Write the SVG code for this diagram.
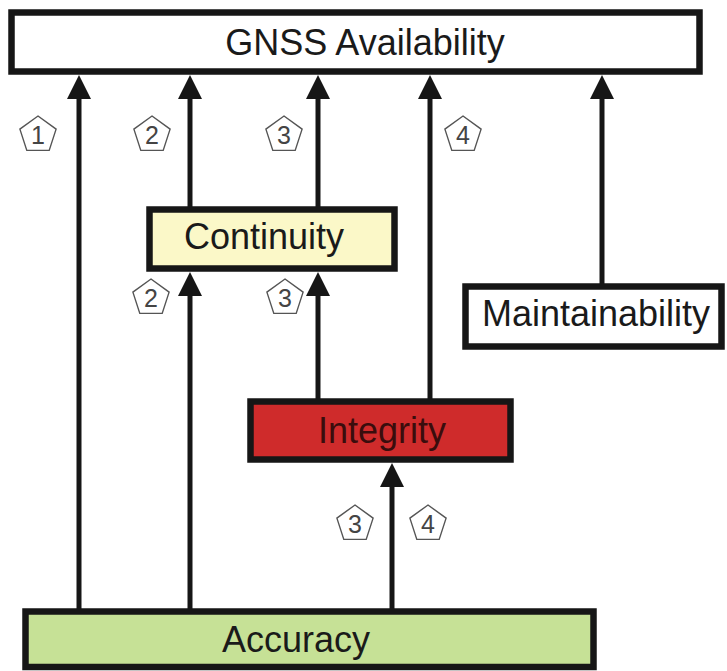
<svg xmlns="http://www.w3.org/2000/svg" xmlns:xlink="http://www.w3.org/1999/xlink" width="727" height="671" viewBox="0 0 727 671">
  <style>
    .box { stroke: #161616; stroke-width: 6.5; }
    .lbl { font-family: "Liberation Sans", Arial, sans-serif; font-size: 36px; text-anchor: middle; fill: #1a1a1a; }
    .conn { stroke: #161616; stroke-width: 5; fill: none; marker-end: url(#arrow); }
    .pent { fill: #ffffff; stroke: #555555; stroke-width: 1.4; }
    .num { font-family: "Liberation Sans", Arial, sans-serif; font-size: 25px; text-anchor: middle; fill: #444444; }
  </style>
  <defs>
    <marker id="arrow" viewBox="0 0 24 24" refX="4" refY="12" markerWidth="24" markerHeight="24" markerUnits="userSpaceOnUse" orient="auto" overflow="visible">
      <path d="M0,0 L24,12 L0,24 Z" fill="#161616"/>
    </marker>
    <polygon id="pentagon" class="pent" points="0,-19 18.1,-5.9 11.2,15.4 -11.2,15.4 -18.1,-5.9"/>
  </defs>
  <rect width="727" height="671" fill="#ffffff"/>

  <g id="gnss">
    <rect class="box" x="11.5" y="12.5" width="688" height="59" fill="#ffffff"/>
    <text class="lbl" x="365" y="55">GNSS Availability</text>
  </g>
  <g id="continuity">
    <rect class="box" x="149.5" y="209.5" width="245" height="59" fill="#fbf8c8"/>
    <text class="lbl" x="264" y="249">Continuity</text>
  </g>
  <g id="maintainability">
    <rect class="box" x="465.5" y="286.5" width="256" height="60" fill="#ffffff"/>
    <text class="lbl" x="596" y="326">Maintainability</text>
  </g>
  <g id="integrity">
    <rect class="box" x="250.5" y="401.5" width="260" height="58" fill="#cf2b2b"/>
    <text class="lbl" x="382" y="443" style="fill:#3a0d0d">Integrity</text>
  </g>
  <g id="accuracy">
    <rect class="box" x="25.5" y="611.5" width="568" height="55.5" fill="#c6e196"/>
    <text class="lbl" x="296" y="652">Accuracy</text>
  </g>

  <g id="connectors">
    <line class="conn" x1="79" y1="611" x2="79" y2="95"/>
    <line class="conn" x1="190" y1="611" x2="190" y2="292"/>
    <line class="conn" x1="190" y1="209" x2="190" y2="95"/>
    <line class="conn" x1="318" y1="401" x2="318" y2="292"/>
    <line class="conn" x1="318" y1="209" x2="318" y2="95"/>
    <line class="conn" x1="430" y1="401" x2="430" y2="95"/>
    <line class="conn" x1="602" y1="286" x2="602" y2="95"/>
    <line class="conn" x1="392" y1="611" x2="392" y2="483"/>
  </g>

  <g id="connector-labels">
    <g transform="translate(38,135)"><use xlink:href="#pentagon"/><text class="num" y="9">1</text></g>
    <g transform="translate(152,135)"><use xlink:href="#pentagon"/><text class="num" y="9">2</text></g>
    <g transform="translate(284,135)"><use xlink:href="#pentagon"/><text class="num" y="9">3</text></g>
    <g transform="translate(463,135)"><use xlink:href="#pentagon"/><text class="num" y="9">4</text></g>
    <g transform="translate(151,298)"><use xlink:href="#pentagon"/><text class="num" y="9">2</text></g>
    <g transform="translate(285,298)"><use xlink:href="#pentagon"/><text class="num" y="9">3</text></g>
    <g transform="translate(355,524)"><use xlink:href="#pentagon"/><text class="num" y="9">3</text></g>
    <g transform="translate(428,524)"><use xlink:href="#pentagon"/><text class="num" y="9">4</text></g>
  </g>
</svg>
